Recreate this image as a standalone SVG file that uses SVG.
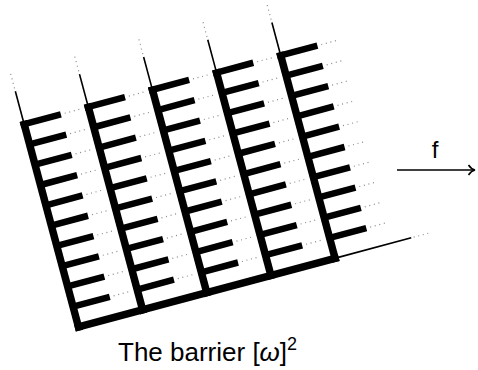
<svg xmlns="http://www.w3.org/2000/svg" width="478" height="370" viewBox="0 0 478 370">
  <style>
    .spine { stroke: #000; stroke-width: 7.5; fill: none; stroke-linecap: butt; }
    .tooth { stroke: #000; stroke-width: 6.5; fill: none; stroke-linecap: butt; }
    .thin  { stroke: #000; stroke-width: 1.6; fill: none; }
    .dots  { stroke: #8a8a8a; stroke-width: 1.2; fill: none; stroke-dasharray: 1 3.7; }
    .label { font-family: "Liberation Sans", "DejaVu Sans", sans-serif; fill: #000; }
  </style>
  <defs>
    <!-- one comb: a spine with ten teeth, dotted tooth tips, thin stalk above -->
    <g id="comb">
      <path class="spine" d="M0,-213.25 V3.75"/>
      <path class="tooth" d="M-3.75,-210 H38 M0,-189 H38 M0,-168 H38 M0,-147 H38 M0,-126 H38 M0,-105 H38 M0,-84 H38 M0,-63 H38 M0,-42 H38 M0,-21 H38"/>
      <path class="dots" d="M42,-210 H58 M42,-189 H58 M42,-168 H58 M42,-147 H58 M42,-126 H58 M42,-105 H58 M42,-84 H58 M42,-63 H58 M42,-42 H58 M42,-21 H58"/>
      <path class="thin" d="M0,-212 V-244"/>
      <path class="dots" d="M0,-247 V-263"/>
    </g>
  </defs>

  <g id="barrier" transform="translate(78.5,327) rotate(-15)">
    <g id="comb1"><use href="#comb"/></g>
    <g id="comb2"><use href="#comb" x="66.4"/></g>
    <g id="comb3"><use href="#comb" x="132.8"/></g>
    <g id="comb4"><use href="#comb" x="199.2"/></g>
    <g id="comb5"><use href="#comb" x="265.6"/></g>
    <g id="base">
      <path class="spine" d="M-3.75,0 H269.35"/>
      <path class="thin" d="M268,0 H344.5"/>
      <path class="dots" d="M347,0 H362"/>
    </g>
  </g>

  <g id="connectors">
    <path class="thin" d="M397,170 H474"/>
    <path class="thin" d="M468.5,165 C470.5,168 472.5,169.5 475,170 C472.5,170.5 470.5,172 468.5,175"/>
  </g>
  <text class="label" x="435" y="158" font-size="24" text-anchor="middle">f</text>

  <text class="label" x="118" y="361" font-size="26">The barrier [<tspan font-style="italic">ω</tspan>]<tspan font-size="18" dy="-11">2</tspan></text>
</svg>
